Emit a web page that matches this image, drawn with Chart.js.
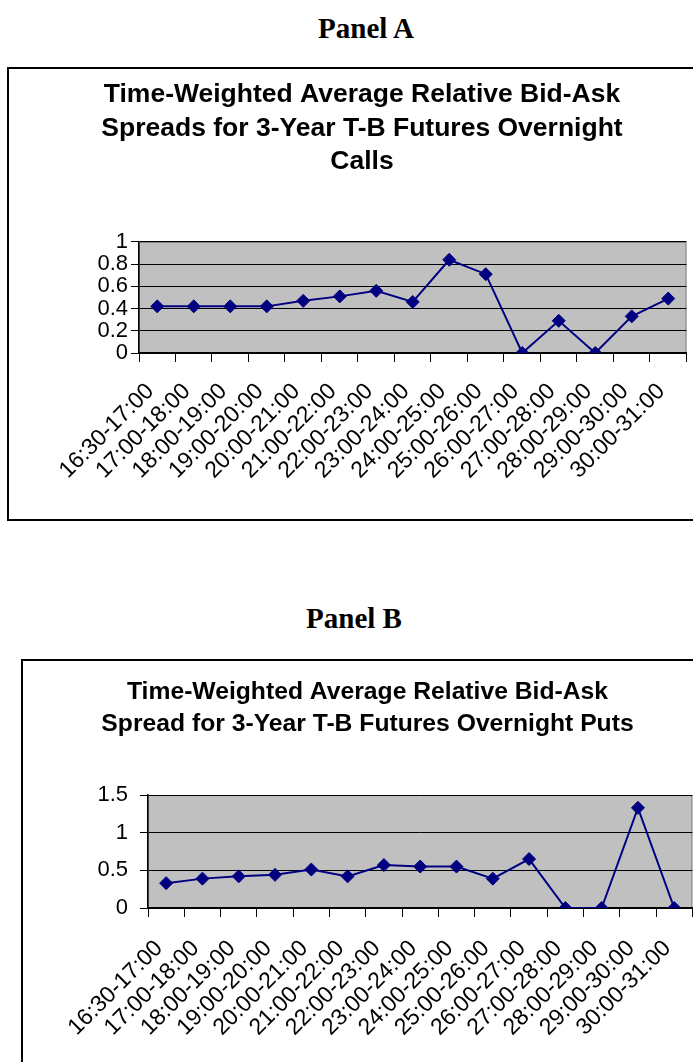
<!DOCTYPE html>
<html>
<head>
<meta charset="utf-8">
<script src="https://cdn.jsdelivr.net/npm/chart.js@4/dist/chart.umd.min.js"></script>
<style>
  html, body { margin: 0; padding: 0; background: #fff; overflow: hidden; width: 693px; height: 1062px; }
  .panel { position: absolute; font-family: "Liberation Serif", "Times New Roman", serif; font-weight: bold; font-size: 29px; color: #000; text-align: center; width: 200px; }
  .frame { position: absolute; border: 2px solid #000; box-sizing: border-box; }
  canvas { position: absolute; }
</style>
</head>
<body>
<div class="panel" style="left:266px; top:12px;">Panel A</div>
<div class="frame" style="left:7px; top:67px; width:720px; height:454px;"></div>
<div style="position:absolute; left:0; top:0;"><canvas id="chartA" width="684" height="448" style="left:20px; top:70px;"></canvas></div>

<div class="panel" style="left:254px; top:602px;">Panel B</div>
<div class="frame" style="left:21px; top:659px; width:720px; height:460px;"></div>
<div style="position:absolute; left:0; top:0;"><canvas id="chartB" width="689" height="400" style="left:23px; top:662px;"></canvas></div>

<script>
const categories = ["16:30-17:00","17:00-18:00","18:00-19:00","19:00-20:00","20:00-21:00","21:00-22:00","22:00-23:00","23:00-24:00","24:00-25:00","25:00-26:00","26:00-27:00","27:00-28:00","28:00-29:00","29:00-30:00","30:00-31:00"];
const callsSpread = [0.42,0.42,0.42,0.42,0.47,0.51,0.56,0.46,0.84,0.71,0,0.29,0,0.33,0.49];
const putsSpread = [0.33,0.39,0.42,0.44,0.51,0.42,0.57,0.55,0.55,0.39,0.65,0,0,1.33,0];
const titleA = ["Time-Weighted Average Relative Bid-Ask","Spreads for 3-Year T-B Futures Overnight","Calls"];
const titleB = ["Time-Weighted Average Relative Bid-Ask","Spread for 3-Year T-B Futures Overnight Puts"];
const yTicksA = { min: 0, max: 1, step: 0.2 };
const yTicksB = { min: 0, max: 1.5, step: 0.5 };

const plotBg = {
  id: 'plotBg',
  beforeDraw(chart) {
    const a = chart.chartArea, ctx = chart.ctx;
    ctx.save();
    ctx.fillStyle = '#C0C0C0';
    ctx.fillRect(a.left, a.top, a.right - a.left, a.bottom - a.top);
    ctx.strokeStyle = '#808080';
    ctx.lineWidth = 1;
    ctx.strokeRect(a.left + 0.5, a.top + 0.5, a.right - a.left - 1, a.bottom - a.top);
    ctx.restore();
  }
};

function makeChart(id, data, title, yt, opts) {
  return new Chart(document.getElementById(id), {
    type: 'line',
    data: {
      labels: categories,
      datasets: [{
        data: data,
        borderColor: '#000080',
        backgroundColor: '#000080',
        borderWidth: 2,
        pointStyle: 'rectRot',
        pointRadius: 6.5,
        pointBorderWidth: 1,
        pointBorderColor: '#000080',
        pointBackgroundColor: '#000080',
        tension: 0,
        fill: false
      }]
    },
    options: {
      responsive: false,
      animation: false,
      devicePixelRatio: 1,
      layout: { padding: 0 },
      plugins: {
        legend: { display: false },
        tooltip: { enabled: false },
        title: {
          display: true,
          text: title,
          color: '#000',
          font: { family: 'Liberation Sans, Arial, sans-serif', size: opts.titleSize, weight: 'bold', lineHeight: opts.titleLH },
          padding: { top: opts.titleTop, bottom: opts.titleBottom }
        }
      },
      scales: {
        x: {
          type: 'category',
          offset: true,
          grid: { display: true, drawOnChartArea: false, drawTicks: true, tickLength: 9, offset: true, color: '#000', lineWidth: 1 },
          border: { display: true, color: '#000', width: 1.5 },
          ticks: {
            color: '#000',
            font: { family: 'Liberation Sans, Arial, sans-serif', size: opts.xFont },
            minRotation: 45, maxRotation: 45, autoSkip: false, padding: opts.xPad, labelOffset: -7
          },
          afterFit(s) { s.height = opts.xHeight; }
        },
        y: {
          min: yt.min, max: yt.max,
          grid: { color: '#000', lineWidth: 1, drawTicks: true, tickLength: 8, tickColor: '#000' },
          border: { display: true, color: '#000', width: 1.5 },
          ticks: {
            stepSize: yt.step,
            autoSkip: false,
            color: '#000',
            font: { family: 'Liberation Sans, Arial, sans-serif', size: 22 },
            padding: opts.yPad,
            callback: (v) => String(Math.round(v * 100) / 100)
          },
          afterFit(s) { s.width = opts.yWidth; }
        }
      }
    },
    plugins: [plotBg]
  });
}

makeChart('chartA', callsSpread, titleA, yTicksA, {
  titleSize: 26.5, titleLH: 1.264, titleTop: 8, titleBottom: 63.5, xFont: 23, xPad: 16, xHeight: 165, yPad: 3, yWidth: 119
});
makeChart('chartB', putsSpread, titleB, yTicksB, {
  titleSize: 24.7, titleLH: 1.296, titleTop: 14, titleBottom: 55, xFont: 23, xPad: 18, xHeight: 154, yPad: 12, yWidth: 125
});
</script>
</body>
</html>
